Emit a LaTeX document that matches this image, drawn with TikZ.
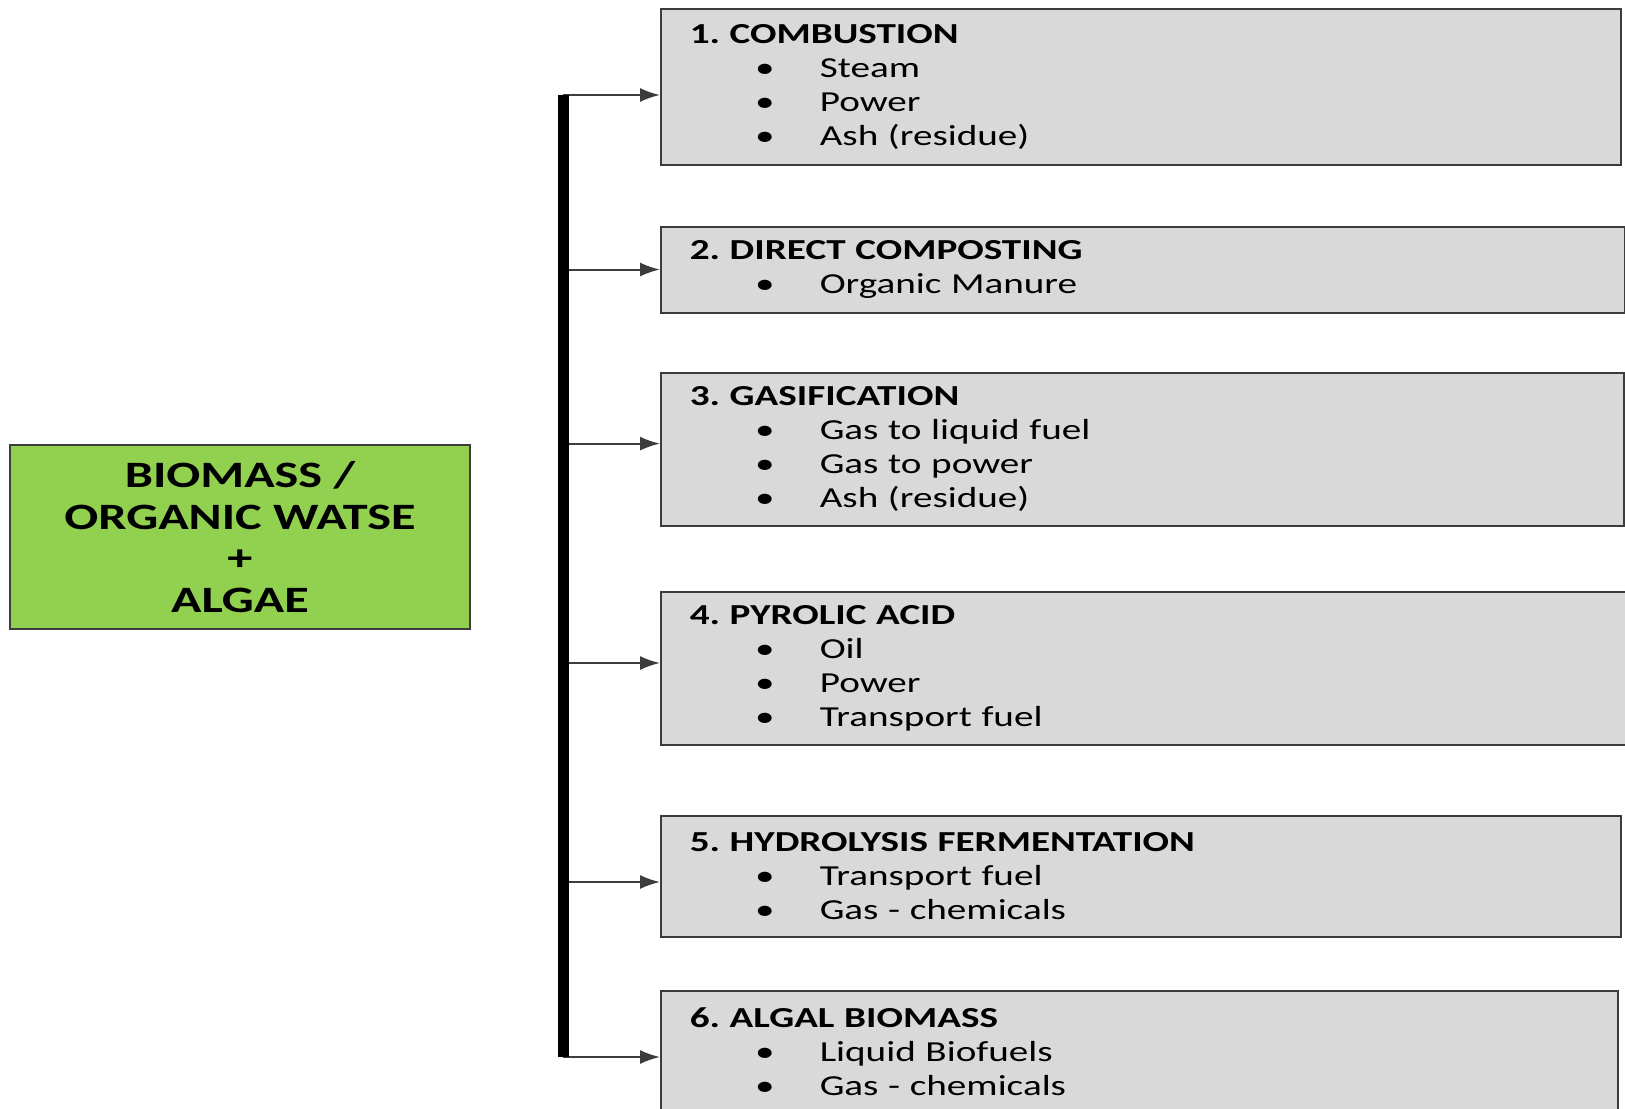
\documentclass[tikz,border=0pt]{standalone}
\usepackage{fontspec}
\setmainfont[FakeStretch=1.35]{Carlito}
\usetikzlibrary{arrows.meta, positioning}
\definecolor{leaf}{RGB}{146,208,80}
\definecolor{boxgr}{RGB}{217,217,217}
\definecolor{edge}{RGB}{60,60,60}
\frenchspacing
% one bullet line inside a process box
\newcommand{\itm}[1]{\\\hspace*{37.5pt}\makebox[0pt]{\textbullet}\hspace*{27.5pt}#1}
\tikzset{
  src/.style={rectangle, draw=edge, line width=0.8pt, fill=leaf, align=center,
              minimum width=230pt, minimum height=92pt,
              font=\bfseries\fontsize{18.6}{20.9}\selectfont},
  % process box, text width = box width minus both inner seps
  proc/.style={rectangle, draw=edge, line width=0.8pt, fill=boxgr, anchor=north west,
               align=left, inner xsep=14.5pt, inner ysep=0pt,
               font=\fontsize{14.5}{17}\selectfont},
  ar/.style={-{Latex[length=10pt, width=7pt]}, line width=1pt, draw=edge},
  trunk/.style={line width=5.5pt, draw=black}
}

\begin{document}
\begin{tikzpicture}[x=0.5pt, y=-0.5pt]
  \useasboundingbox (0,0) rectangle (1625,1108);

  \node[src] (feed) at (240,537) {BIOMASS /\\ORGANIC WATSE\\+\\ALGAE};

  \node[proc, text width=451pt, minimum height=78pt] (b1) at (660,8)
    {\textbf{1. COMBUSTION}\itm{Steam}\itm{Power}\itm{Ash (residue)}};
  \node[proc, text width=453pt, minimum height=43pt] (b2) at (660,226)
    {\textbf{2. DIRECT COMPOSTING}\itm{Organic Manure}};
  \node[proc, text width=452.5pt, minimum height=76.5pt] (b3) at (660,372)
    {\textbf{3. GASIFICATION}\itm{Gas to liquid fuel}\itm{Gas to power}\itm{Ash (residue)}};
  \node[proc, text width=455pt, minimum height=76.5pt] (b4) at (660,591)
    {\textbf{4. PYROLIC ACID}\itm{Oil}\itm{Power}\itm{Transport fuel}};
  \node[proc, text width=451pt, minimum height=60.5pt] (b5) at (660,815)
    {\textbf{5. HYDROLYSIS FERMENTATION}\itm{Transport fuel}\itm{Gas - chemicals}};
  \node[proc, text width=449.5pt, minimum height=61pt] (b6) at (660,990)
    {\textbf{6. ALGAL BIOMASS}\itm{Liquid Biofuels}\itm{Gas - chemicals}};

  % branches off the trunk
  \foreach \i/\y in {1/95, 2/269.5, 3/443.6, 4/663, 5/882, 6/1057}{
    \coordinate (t\i) at (563,\y);
    \draw[ar] (t\i) -- (t\i -| b\i.west);
  }
  \draw[trunk] (t1) -- (t6);
\end{tikzpicture}
\end{document}
